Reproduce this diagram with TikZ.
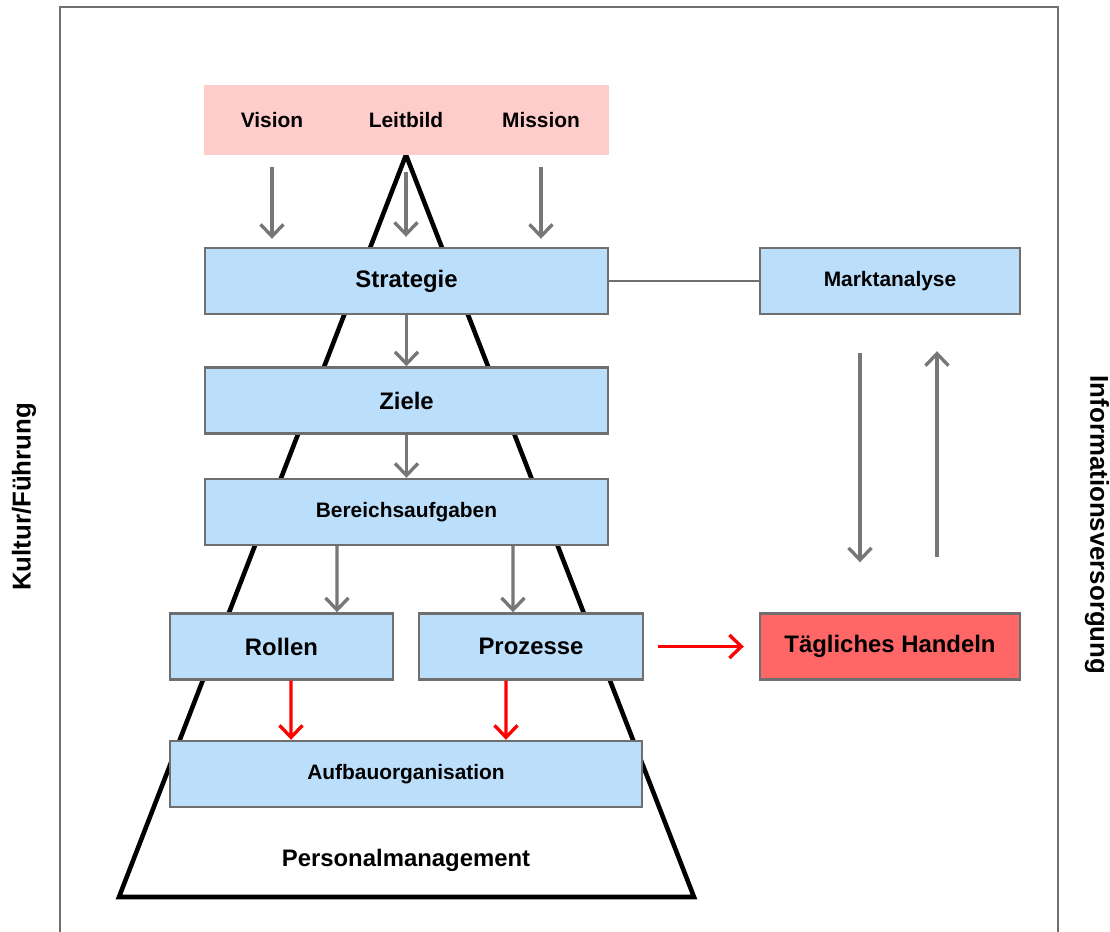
\documentclass[tikz,border=0pt]{standalone}
\usepackage{fontspec}
\setmainfont{Liberation Sans}
\usetikzlibrary{arrows.meta,positioning,calc}
\definecolor{rosa}{HTML}{FFCCCC}
\definecolor{hellblau}{HTML}{BBDEFB}
\definecolor{rahmengrau}{HTML}{6F6F6F}
\definecolor{pfeilgrau}{HTML}{777777}
\definecolor{signalrot}{HTML}{FF6666}

\begin{document}
\begin{tikzpicture}[x=0.02cm,y=-0.02cm,
  box/.style={draw=rahmengrau,line width=1.4pt,fill=hellblau,minimum height=1.32cm,inner sep=0pt,font=\bfseries\fontsize{11.9}{14}\selectfont},
  bigtext/.style={font=\bfseries\fontsize{13.6}{16}\selectfont},
  grayarr/.style={-{Straight Barb[length=2.4mm,width=4.6mm]},draw=pfeilgrau,line width=1.9pt},
  redarr/.style={-{Straight Barb[length=2.4mm,width=4.6mm]},draw=red,line width=1.9pt}]
\useasboundingbox (0,0) rectangle (1110,931);
% frame and pyramid
\draw[rahmengrau,line width=1.2pt] (60,945) -- (60,7) -- (1058,7) -- (1058,945);
\draw[line width=2.6pt] (406,155) -- (694,897) -- (119,897) -- cycle;
\node[bigtext] (personal) at (406,860) {Personalmanagement};
% top block
\node[fill=rosa,minimum width=8.1cm,minimum height=1.4cm,inner sep=0pt] (vmb) at (406.5,120) {};
\node[font=\bfseries\fontsize{11.9}{14}\selectfont] (leitbild) at (406,120) {Leitbild};
\node[font=\bfseries\fontsize{11.9}{14}\selectfont] (vision) at (272,120) {Vision};
\node[font=\bfseries\fontsize{11.9}{14}\selectfont] (mission) at (541,120) {Mission};
% boxes
\node[box,bigtext,minimum width=8.06cm] (strategie) at (406.5,281) {Strategie};
\node[box,bigtext,minimum width=8.06cm] (ziele) at (406.5,400.5) {Ziele};
\node[box,minimum width=8.06cm] (bereich) at (406.5,512) {Bereichsaufgaben};
\node[box,bigtext,minimum width=4.46cm] (rollen) at (281.5,646.5) {Rollen};
\node[box,bigtext,minimum width=4.48cm] (prozesse) at (531,646.5) {Prozesse};
\node[box,minimum width=9.44cm] (aufbau) at (406,774) {Aufbauorganisation};
\node[box,minimum width=5.2cm] (markt) at (890,281) {Marktanalyse};
\node[box,bigtext,fill=signalrot,minimum width=5.2cm] (taeglich) at (890,646.5) {Tägliches Handeln};
% side labels
\node[rotate=90,font=\bfseries\fontsize{14.7}{17}\selectfont] (kultur) at (24,497) {Kultur/Führung};
\node[rotate=-90,font=\bfseries\fontsize{14.7}{17}\selectfont] (info) at (1097,525) {Informationsversorgung};
% connectors
\draw[grayarr,shorten <=0.24cm,shorten >=0.16cm] (vmb.south -| vision) -- (strategie.north -| vision);
\draw[grayarr,shorten <=0.34cm,shorten >=0.2cm] (vmb.south -| leitbild) -- (strategie.north -| leitbild);
\draw[grayarr,shorten <=0.24cm,shorten >=0.16cm] (vmb.south -| mission) -- (strategie.north -| mission);
\draw[rahmengrau,line width=1.4pt] (strategie) -- (markt);
\draw[grayarr] (strategie) -- (ziele);
\draw[grayarr] (ziele) -- (bereich);
\draw[grayarr] ([xshift=-1.39cm]bereich.south) -- ([xshift=1.11cm]rollen.north);
\draw[grayarr] ([xshift=2.13cm]bereich.south) -- ([xshift=-0.36cm]prozesse.north);
\draw[redarr] ([xshift=0.19cm]rollen.south) -- ([xshift=-2.3cm]aufbau.north);
\draw[redarr] ([xshift=-0.5cm]prozesse.south) -- ([xshift=2.0cm]aufbau.north);
\draw[redarr,shorten <=0.28cm,shorten >=0.3cm] (prozesse) -- (taeglich);
\draw[grayarr,shorten <=0.76cm,shorten >=1.0cm] ([xshift=-0.6cm]markt.south) -- ([xshift=-0.6cm]taeglich.north);
\draw[grayarr,shorten <=1.1cm,shorten >=0.72cm] ([xshift=0.94cm]taeglich.north) -- ([xshift=0.94cm]markt.south);
\end{tikzpicture}
\end{document}
